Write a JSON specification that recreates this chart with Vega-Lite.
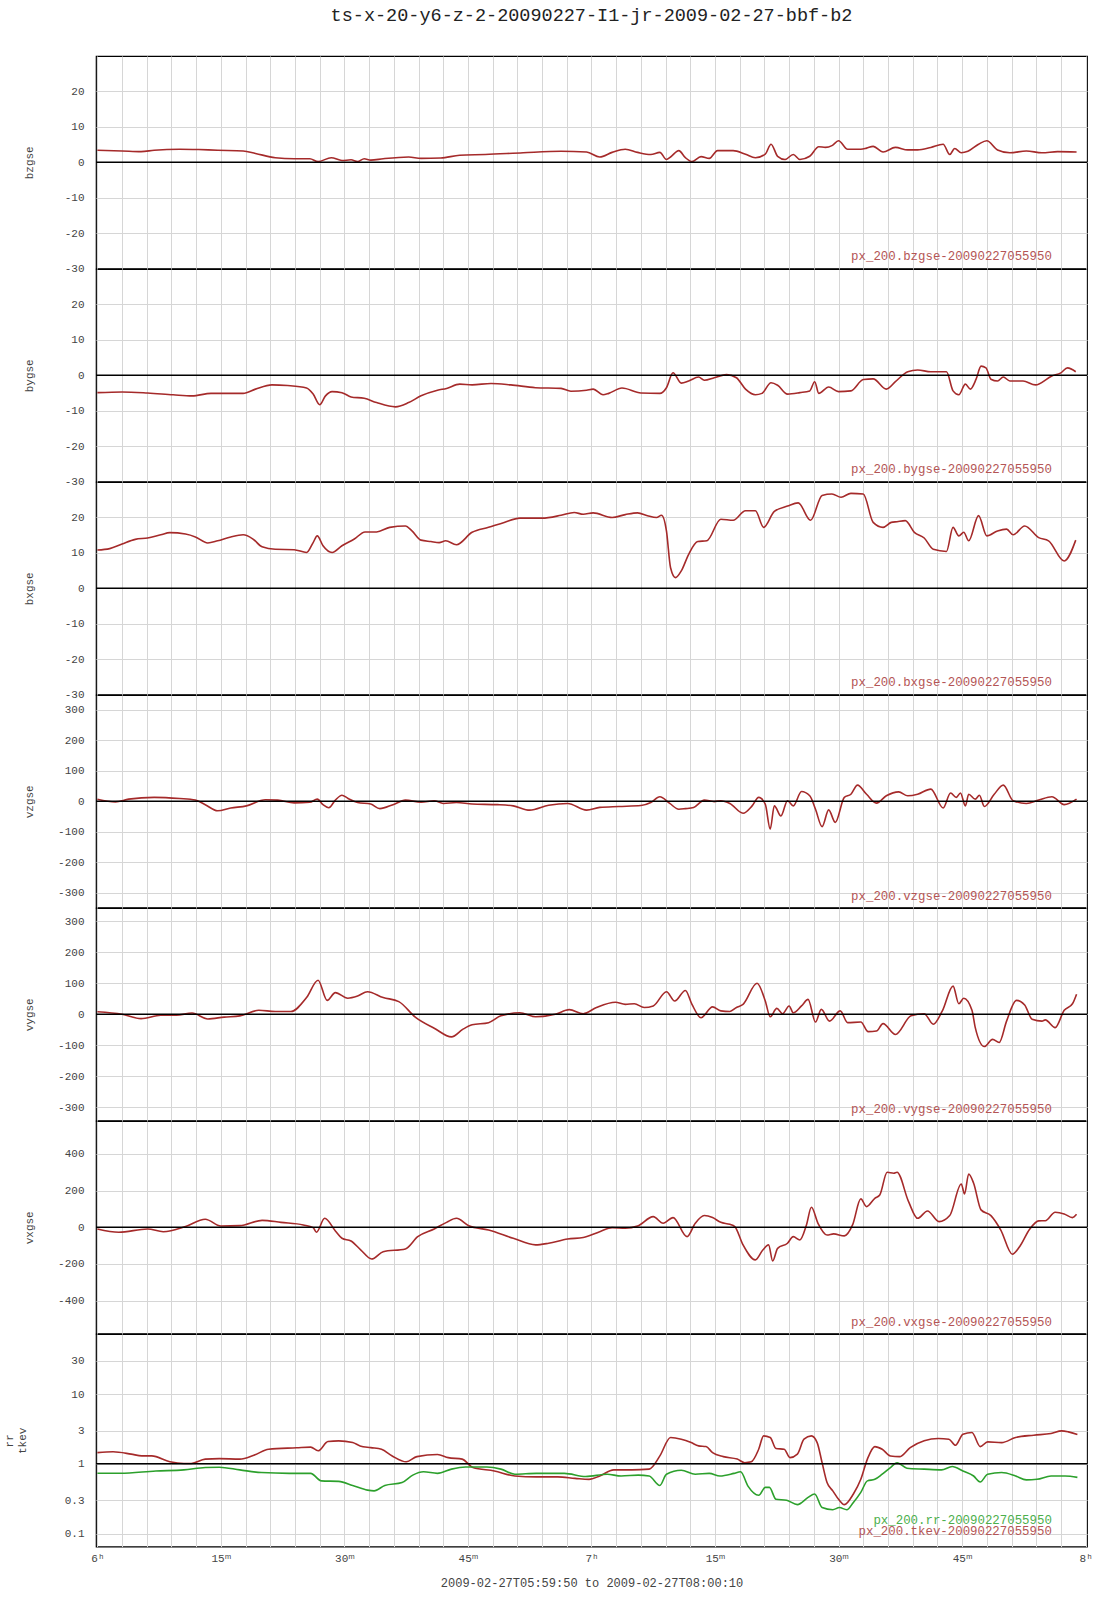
{
  "$schema": "https://vega.github.io/schema/vega-lite/v6.json",
  "padding": {"left": 2, "top": 5, "right": 5, "bottom": 5},
  "title": {"text": "ts-x-20-y6-z-2-20090227-I1-jr-2009-02-27-bbf-b2", "font": "Liberation Mono", "fontSize": 18.5, "fontWeight": "normal", "color": "#222", "anchor": "middle", "frame": "group", "offset": 31},
  "spacing": 0,
  "bounds": "flush",
  "datasets": {
    "bz": [{"t":0,"v":3.4},{"t":3.0,"v":3.2},{"t":5.3,"v":3.0},{"t":6.9,"v":3.4},{"t":10.0,"v":3.7},{"t":12.3,"v":3.6},{"t":14.6,"v":3.4},{"t":17.7,"v":3.2},{"t":19.2,"v":2.5},{"t":21.6,"v":1.3},{"t":23.9,"v":1.0},{"t":25.8,"v":1.0},{"t":26.8,"v":0.2},{"t":28.4,"v":1.3},{"t":29.7,"v":0.5},{"t":30.8,"v":0.7},{"t":31.6,"v":0.2},{"t":32.4,"v":1.0},{"t":33.2,"v":0.6},{"t":34.7,"v":1.0},{"t":37.8,"v":1.5},{"t":39.3,"v":1.1},{"t":41.7,"v":1.2},{"t":44.0,"v":2.0},{"t":47.1,"v":2.2},{"t":51.7,"v":2.7},{"t":56.3,"v":3.1},{"t":59.4,"v":2.9},{"t":61.0,"v":1.5},{"t":62.5,"v":2.8},{"t":64.1,"v":3.7},{"t":65.6,"v":2.8},{"t":67.2,"v":2.2},{"t":68.3,"v":2.8},{"t":69.1,"v":0.8},{"t":69.6,"v":1.5},{"t":70.6,"v":3.3},{"t":71.4,"v":1.3},{"t":72.2,"v":0.2},{"t":73.3,"v":1.6},{"t":74.3,"v":1.1},{"t":75.3,"v":3.3},{"t":77.2,"v":3.3},{"t":78.7,"v":2.3},{"t":79.9,"v":1.3},{"t":81.1,"v":2.3},{"t":81.8,"v":5.1},{"t":82.6,"v":1.7},{"t":83.5,"v":0.8},{"t":84.5,"v":2.2},{"t":85.3,"v":0.8},{"t":86.5,"v":1.7},{"t":87.6,"v":4.4},{"t":88.4,"v":4.2},{"t":89.2,"v":4.7},{"t":90.0,"v":6.1},{"t":91.1,"v":3.7},{"t":92.7,"v":3.7},{"t":93.4,"v":4.0},{"t":94.2,"v":4.5},{"t":95.4,"v":2.9},{"t":96.9,"v":4.2},{"t":98.4,"v":3.5},{"t":99.6,"v":3.5},{"t":101.2,"v":4.2},{"t":102.7,"v":5.1},{"t":103.5,"v":2.2},{"t":104.1,"v":3.9},{"t":104.9,"v":2.7},{"t":105.7,"v":3.1},{"t":107.0,"v":5.1},{"t":108.0,"v":6.1},{"t":109.3,"v":3.5},{"t":110.8,"v":2.7},{"t":112.8,"v":3.2},{"t":114.7,"v":2.7},{"t":116.6,"v":3.0},{"t":118.9,"v":2.9}],
    "by": [{"t":0,"v":-4.9},{"t":3.0,"v":-4.7},{"t":6.1,"v":-5.0},{"t":9.2,"v":-5.5},{"t":11.5,"v":-5.8},{"t":13.8,"v":-5.1},{"t":17.7,"v":-5.1},{"t":19.2,"v":-3.9},{"t":21.2,"v":-2.7},{"t":23.1,"v":-2.9},{"t":25.4,"v":-3.6},{"t":26.2,"v":-5.3},{"t":27.0,"v":-8.3},{"t":27.7,"v":-5.8},{"t":28.5,"v":-4.6},{"t":29.7,"v":-4.9},{"t":30.8,"v":-6.1},{"t":32.4,"v":-6.5},{"t":33.9,"v":-7.7},{"t":36.2,"v":-8.9},{"t":37.8,"v":-7.7},{"t":39.3,"v":-5.8},{"t":41.3,"v":-4.2},{"t":42.4,"v":-3.7},{"t":44.0,"v":-2.5},{"t":45.5,"v":-2.7},{"t":47.8,"v":-2.3},{"t":50.2,"v":-2.7},{"t":53.2,"v":-3.5},{"t":56.3,"v":-3.7},{"t":57.5,"v":-4.5},{"t":59.4,"v":-4.2},{"t":60.2,"v":-3.9},{"t":61.4,"v":-5.5},{"t":62.1,"v":-5.1},{"t":63.7,"v":-3.6},{"t":66.0,"v":-5.0},{"t":68.3,"v":-5.1},{"t":69.1,"v":-3.5},{"t":69.9,"v":0.7},{"t":70.9,"v":-2.2},{"t":71.8,"v":-1.6},{"t":73.0,"v":-0.5},{"t":73.7,"v":-1.4},{"t":74.9,"v":-0.7},{"t":76.4,"v":0.2},{"t":77.6,"v":-0.7},{"t":78.7,"v":-3.9},{"t":79.9,"v":-5.5},{"t":80.7,"v":-5.1},{"t":81.8,"v":-2.1},{"t":82.6,"v":-2.8},{"t":83.8,"v":-5.3},{"t":85.3,"v":-4.9},{"t":86.5,"v":-4.4},{"t":87.1,"v":-1.8},{"t":87.6,"v":-5.1},{"t":88.8,"v":-3.3},{"t":90.0,"v":-4.6},{"t":91.5,"v":-4.4},{"t":93.0,"v":-1.2},{"t":94.2,"v":-1.0},{"t":95.8,"v":-3.9},{"t":96.9,"v":-1.8},{"t":98.4,"v":1.0},{"t":99.6,"v":1.5},{"t":101.2,"v":1.0},{"t":103.1,"v":1.0},{"t":103.9,"v":-4.4},{"t":104.6,"v":-5.5},{"t":105.4,"v":-2.5},{"t":106.0,"v":-3.9},{"t":106.7,"v":-1.1},{"t":107.3,"v":2.6},{"t":107.9,"v":2.1},{"t":108.5,"v":-1.1},{"t":109.3,"v":-1.6},{"t":110.0,"v":-0.5},{"t":110.8,"v":-1.6},{"t":112.4,"v":-1.6},{"t":113.9,"v":-2.7},{"t":115.9,"v":-0.2},{"t":117.0,"v":0.7},{"t":117.8,"v":2.1},{"t":118.8,"v":1.0}],
    "bx": [{"t":0,"v":10.8},{"t":1.5,"v":11.2},{"t":3.0,"v":12.5},{"t":4.6,"v":13.8},{"t":6.1,"v":14.2},{"t":7.7,"v":15.1},{"t":8.8,"v":15.7},{"t":10.7,"v":15.3},{"t":11.9,"v":14.5},{"t":13.4,"v":12.8},{"t":14.6,"v":13.4},{"t":16.2,"v":14.5},{"t":17.7,"v":15.1},{"t":18.9,"v":13.9},{"t":20.0,"v":11.7},{"t":21.6,"v":11.0},{"t":23.9,"v":10.9},{"t":25.4,"v":10.1},{"t":26.2,"v":12.9},{"t":26.7,"v":14.8},{"t":27.4,"v":12.0},{"t":28.5,"v":10.1},{"t":29.7,"v":12.0},{"t":31.2,"v":13.9},{"t":32.5,"v":15.9},{"t":33.9,"v":15.9},{"t":35.5,"v":17.2},{"t":37.4,"v":17.6},{"t":38.2,"v":16.2},{"t":39.3,"v":13.6},{"t":40.5,"v":13.2},{"t":41.5,"v":12.9},{"t":42.3,"v":13.4},{"t":43.6,"v":12.3},{"t":45.5,"v":15.8},{"t":47.5,"v":17.2},{"t":49.4,"v":18.6},{"t":51.3,"v":19.8},{"t":54.0,"v":19.8},{"t":56.3,"v":20.6},{"t":57.9,"v":21.4},{"t":59.0,"v":20.9},{"t":60.2,"v":21.3},{"t":62.5,"v":20.0},{"t":64.1,"v":20.8},{"t":65.6,"v":21.3},{"t":66.8,"v":20.5},{"t":67.9,"v":20.0},{"t":68.5,"v":20.6},{"t":69.1,"v":16.2},{"t":69.6,"v":5.8},{"t":70.2,"v":3.0},{"t":70.9,"v":4.9},{"t":71.8,"v":9.6},{"t":72.9,"v":13.2},{"t":74.0,"v":13.4},{"t":75.7,"v":19.5},{"t":77.2,"v":19.2},{"t":78.7,"v":21.9},{"t":79.9,"v":21.9},{"t":80.9,"v":17.2},{"t":82.2,"v":21.7},{"t":83.8,"v":23.2},{"t":85.1,"v":24.1},{"t":86.6,"v":19.2},{"t":88.0,"v":26.2},{"t":89.2,"v":26.6},{"t":90.3,"v":25.7},{"t":91.5,"v":26.8},{"t":93.0,"v":26.6},{"t":94.2,"v":18.6},{"t":95.4,"v":17.2},{"t":96.4,"v":18.6},{"t":97.1,"v":18.8},{"t":98.1,"v":19.1},{"t":99.2,"v":15.8},{"t":100.4,"v":14.2},{"t":101.5,"v":11.0},{"t":103.1,"v":10.4},{"t":103.9,"v":17.2},{"t":104.6,"v":14.8},{"t":105.2,"v":15.8},{"t":105.8,"v":13.4},{"t":107.0,"v":20.5},{"t":108.0,"v":14.8},{"t":109.3,"v":16.2},{"t":110.4,"v":16.7},{"t":111.2,"v":15.1},{"t":112.6,"v":17.6},{"t":114.3,"v":14.3},{"t":115.5,"v":13.4},{"t":117.4,"v":7.7},{"t":118.8,"v":13.6}],
    "vz": [{"t":0,"v":7},{"t":2.2,"v":-2},{"t":3.8,"v":7},{"t":6.9,"v":13},{"t":10.0,"v":9},{"t":11.9,"v":4},{"t":13.1,"v":-11},{"t":14.6,"v":-31},{"t":16.2,"v":-22},{"t":18.1,"v":-15},{"t":20.4,"v":5},{"t":21.9,"v":4},{"t":23.9,"v":-5},{"t":25.8,"v":-3},{"t":26.7,"v":7},{"t":27.4,"v":-11},{"t":28.1,"v":-21},{"t":28.9,"v":4},{"t":29.7,"v":20},{"t":30.4,"v":10},{"t":31.6,"v":-4},{"t":33.2,"v":-9},{"t":34.3,"v":-24},{"t":35.9,"v":-11},{"t":37.4,"v":4},{"t":39.3,"v":-3},{"t":40.9,"v":2},{"t":42.0,"v":-7},{"t":43.6,"v":-4},{"t":45.5,"v":-9},{"t":48.6,"v":-11},{"t":50.5,"v":-15},{"t":52.5,"v":-29},{"t":54.8,"v":-13},{"t":57.1,"v":-7},{"t":59.4,"v":-29},{"t":61.0,"v":-20},{"t":63.3,"v":-17},{"t":66.0,"v":-14},{"t":67.2,"v":-4},{"t":68.3,"v":15},{"t":69.5,"v":-7},{"t":70.6,"v":-26},{"t":71.4,"v":-24},{"t":72.4,"v":-20},{"t":73.7,"v":4},{"t":74.9,"v":-1},{"t":75.7,"v":2},{"t":76.8,"v":-7},{"t":78.4,"v":-39},{"t":79.5,"v":-15},{"t":80.3,"v":13},{"t":81.1,"v":-9},{"t":81.7,"v":-91},{"t":82.2,"v":-15},{"t":83.0,"v":-48},{"t":83.8,"v":2},{"t":84.5,"v":-15},{"t":85.5,"v":32},{"t":86.5,"v":18},{"t":87.2,"v":-26},{"t":88.0,"v":-83},{"t":88.8,"v":-28},{"t":89.6,"v":-69},{"t":90.7,"v":13},{"t":91.5,"v":23},{"t":92.3,"v":53},{"t":93.4,"v":23},{"t":94.6,"v":-6},{"t":95.8,"v":18},{"t":97.3,"v":31},{"t":98.4,"v":18},{"t":99.6,"v":23},{"t":101.2,"v":40},{"t":102.7,"v":-22},{"t":103.6,"v":27},{"t":104.3,"v":13},{"t":104.8,"v":27},{"t":105.4,"v":-15},{"t":105.8,"v":23},{"t":106.6,"v":7},{"t":107.1,"v":20},{"t":107.7,"v":-17},{"t":108.9,"v":23},{"t":110.0,"v":53},{"t":111.2,"v":2},{"t":112.8,"v":-7},{"t":114.3,"v":4},{"t":115.9,"v":15},{"t":117.4,"v":-11},{"t":118.9,"v":7}],
    "vy": [{"t":0,"v":8},{"t":3.0,"v":0},{"t":5.3,"v":-14},{"t":7.7,"v":-3},{"t":9.6,"v":-3},{"t":11.5,"v":4},{"t":13.4,"v":-15},{"t":15.4,"v":-9},{"t":17.3,"v":-5},{"t":19.6,"v":13},{"t":21.6,"v":9},{"t":23.5,"v":9},{"t":25.4,"v":54},{"t":26.8,"v":110},{"t":27.9,"v":45},{"t":28.9,"v":70},{"t":30.4,"v":52},{"t":31.6,"v":59},{"t":32.8,"v":73},{"t":34.7,"v":54},{"t":36.6,"v":41},{"t":38.6,"v":-9},{"t":40.9,"v":-45},{"t":43.0,"v":-73},{"t":44.4,"v":-48},{"t":45.5,"v":-34},{"t":47.5,"v":-27},{"t":49.0,"v":-5},{"t":51.3,"v":5},{"t":53.2,"v":-8},{"t":55.6,"v":0},{"t":57.3,"v":15},{"t":59.0,"v":2},{"t":60.6,"v":22},{"t":62.9,"v":39},{"t":64.1,"v":32},{"t":65.2,"v":34},{"t":66.4,"v":22},{"t":67.5,"v":27},{"t":69.1,"v":73},{"t":70.1,"v":43},{"t":71.4,"v":77},{"t":72.2,"v":32},{"t":73.3,"v":-11},{"t":74.7,"v":24},{"t":75.7,"v":11},{"t":76.8,"v":9},{"t":77.6,"v":22},{"t":78.4,"v":32},{"t":80.1,"v":100},{"t":81.1,"v":43},{"t":81.7,"v":-8},{"t":82.5,"v":19},{"t":83.2,"v":2},{"t":84.0,"v":27},{"t":84.5,"v":5},{"t":85.5,"v":27},{"t":86.3,"v":48},{"t":87.2,"v":-25},{"t":87.9,"v":16},{"t":88.9,"v":-22},{"t":90.2,"v":11},{"t":91.1,"v":-27},{"t":92.7,"v":-25},{"t":93.6,"v":-56},{"t":94.6,"v":-54},{"t":95.4,"v":-30},{"t":96.9,"v":-65},{"t":98.8,"v":-5},{"t":100.4,"v":2},{"t":101.5,"v":-32},{"t":102.6,"v":11},{"t":103.9,"v":91},{"t":104.6,"v":34},{"t":105.2,"v":52},{"t":106.2,"v":13},{"t":106.6,"v":-43},{"t":107.7,"v":-104},{"t":108.7,"v":-81},{"t":109.5,"v":-91},{"t":110.4,"v":-22},{"t":111.6,"v":45},{"t":112.6,"v":30},{"t":113.5,"v":-16},{"t":114.7,"v":-22},{"t":115.1,"v":-18},{"t":116.3,"v":-43},{"t":117.4,"v":13},{"t":118.4,"v":34},{"t":118.9,"v":65}],
    "vx": [{"t":0,"v":-9},{"t":2.6,"v":-27},{"t":6.1,"v":-9},{"t":8.0,"v":-24},{"t":10.7,"v":4},{"t":13.1,"v":44},{"t":15.0,"v":7},{"t":17.3,"v":9},{"t":20.0,"v":38},{"t":22.3,"v":27},{"t":25.0,"v":13},{"t":26.2,"v":-2},{"t":26.6,"v":-27},{"t":27.6,"v":49},{"t":28.9,"v":-20},{"t":29.7,"v":-60},{"t":30.8,"v":-75},{"t":32.0,"v":-124},{"t":33.3,"v":-173},{"t":34.7,"v":-133},{"t":37.4,"v":-118},{"t":38.9,"v":-51},{"t":40.9,"v":-9},{"t":42.4,"v":27},{"t":43.6,"v":49},{"t":45.1,"v":9},{"t":47.5,"v":-15},{"t":50.5,"v":-60},{"t":53.2,"v":-96},{"t":54.8,"v":-87},{"t":57.1,"v":-64},{"t":59.0,"v":-56},{"t":61.0,"v":-24},{"t":62.5,"v":-2},{"t":64.1,"v":-5},{"t":65.6,"v":7},{"t":67.5,"v":58},{"t":68.7,"v":22},{"t":69.9,"v":53},{"t":71.6,"v":-51},{"t":72.6,"v":22},{"t":73.7,"v":64},{"t":74.7,"v":53},{"t":75.7,"v":27},{"t":76.8,"v":16},{"t":77.4,"v":4},{"t":78.4,"v":-96},{"t":79.9,"v":-178},{"t":80.8,"v":-124},{"t":81.5,"v":-96},{"t":82.0,"v":-184},{"t":82.6,"v":-115},{"t":83.8,"v":-87},{"t":84.5,"v":-51},{"t":85.3,"v":-69},{"t":86.1,"v":13},{"t":86.7,"v":109},{"t":87.5,"v":22},{"t":88.6,"v":-42},{"t":89.4,"v":-36},{"t":90.7,"v":-47},{"t":91.7,"v":13},{"t":92.7,"v":155},{"t":93.4,"v":113},{"t":94.4,"v":158},{"t":95.0,"v":176},{"t":95.9,"v":300},{"t":96.7,"v":295},{"t":97.1,"v":300},{"t":98.5,"v":140},{"t":99.6,"v":49},{"t":100.8,"v":89},{"t":102.2,"v":31},{"t":103.5,"v":64},{"t":104.9,"v":236},{"t":105.3,"v":182},{"t":105.8,"v":291},{"t":106.4,"v":240},{"t":107.3,"v":95},{"t":108.5,"v":64},{"t":109.7,"v":-15},{"t":111.1,"v":-147},{"t":112.0,"v":-105},{"t":113.2,"v":-11},{"t":114.3,"v":35},{"t":115.1,"v":36},{"t":116.3,"v":82},{"t":117.4,"v":73},{"t":118.4,"v":53},{"t":118.9,"v":71}],
    "p7": [{"s":"tkev","t":0,"v":1.45},{"s":"tkev","t":1.9,"v":1.49},{"s":"tkev","t":4.1,"v":1.38},{"s":"tkev","t":5.4,"v":1.30},{"s":"tkev","t":6.6,"v":1.30},{"s":"tkev","t":8.8,"v":1.07},{"s":"tkev","t":10.5,"v":1.01},{"s":"tkev","t":11.4,"v":1.01},{"s":"tkev","t":13.1,"v":1.17},{"s":"tkev","t":14.8,"v":1.19},{"s":"tkev","t":17.3,"v":1.17},{"s":"tkev","t":19.0,"v":1.33},{"s":"tkev","t":20.8,"v":1.62},{"s":"tkev","t":24.2,"v":1.70},{"s":"tkev","t":25.9,"v":1.74},{"s":"tkev","t":26.8,"v":1.54},{"s":"tkev","t":28.0,"v":2.09},{"s":"tkev","t":29.3,"v":2.14},{"s":"tkev","t":31.0,"v":2.02},{"s":"tkev","t":31.9,"v":1.81},{"s":"tkev","t":33.2,"v":1.71},{"s":"tkev","t":34.5,"v":1.62},{"s":"tkev","t":35.8,"v":1.30},{"s":"tkev","t":37.5,"v":1.07},{"s":"tkev","t":38.8,"v":1.27},{"s":"tkev","t":41.3,"v":1.36},{"s":"tkev","t":42.6,"v":1.23},{"s":"tkev","t":44.3,"v":1.17},{"s":"tkev","t":45.6,"v":0.886},{"s":"tkev","t":48.2,"v":0.79},{"s":"tkev","t":50.7,"v":0.67},{"s":"tkev","t":53.3,"v":0.65},{"s":"tkev","t":55.9,"v":0.65},{"s":"tkev","t":58.0,"v":0.62},{"s":"tkev","t":59.7,"v":0.60},{"s":"tkev","t":61.0,"v":0.67},{"s":"tkev","t":62.7,"v":0.82},{"s":"tkev","t":64.9,"v":0.82},{"s":"tkev","t":67.0,"v":0.84},{"s":"tkev","t":68.3,"v":1.30},{"s":"tkev","t":69.6,"v":2.39},{"s":"tkev","t":70.9,"v":2.26},{"s":"tkev","t":72.1,"v":2.02},{"s":"tkev","t":73.0,"v":1.81},{"s":"tkev","t":73.9,"v":1.77},{"s":"tkev","t":74.7,"v":1.45},{"s":"tkev","t":76.0,"v":1.27},{"s":"tkev","t":77.7,"v":1.17},{"s":"tkev","t":78.6,"v":1.04},{"s":"tkev","t":79.4,"v":1.07},{"s":"tkev","t":80.3,"v":1.62},{"s":"tkev","t":80.9,"v":2.52},{"s":"tkev","t":81.7,"v":2.39},{"s":"tkev","t":82.4,"v":1.66},{"s":"tkev","t":83.4,"v":1.62},{"s":"tkev","t":84.1,"v":1.23},{"s":"tkev","t":85.0,"v":1.38},{"s":"tkev","t":85.8,"v":2.26},{"s":"tkev","t":86.7,"v":2.52},{"s":"tkev","t":87.4,"v":2.02},{"s":"tkev","t":88.0,"v":1.04},{"s":"tkev","t":88.6,"v":0.54},{"s":"tkev","t":89.3,"v":0.41},{"s":"tkev","t":90.0,"v":0.31},{"s":"tkev","t":90.7,"v":0.26},{"s":"tkev","t":91.8,"v":0.37},{"s":"tkev","t":92.7,"v":0.60},{"s":"tkev","t":93.5,"v":1.17},{"s":"tkev","t":94.4,"v":1.77},{"s":"tkev","t":95.3,"v":1.62},{"s":"tkev","t":96.3,"v":1.30},{"s":"tkev","t":97.4,"v":1.27},{"s":"tkev","t":98.7,"v":1.71},{"s":"tkev","t":100.4,"v":2.14},{"s":"tkev","t":102.1,"v":2.31},{"s":"tkev","t":103.4,"v":2.26},{"s":"tkev","t":104.2,"v":1.85},{"s":"tkev","t":105.1,"v":2.67},{"s":"tkev","t":106.2,"v":2.82},{"s":"tkev","t":107.2,"v":1.77},{"s":"tkev","t":108.1,"v":2.07},{"s":"tkev","t":109.8,"v":2.02},{"s":"tkev","t":111.5,"v":2.39},{"s":"tkev","t":113.7,"v":2.58},{"s":"tkev","t":115.8,"v":2.72},{"s":"tkev","t":117.1,"v":2.97},{"s":"tkev","t":117.9,"v":2.88},{"s":"tkev","t":119.0,"v":2.64},
      {"s":"rr","t":0,"v":0.734},{"s":"rr","t":2.8,"v":0.734},{"s":"rr","t":7.1,"v":0.79},{"s":"rr","t":10.5,"v":0.82},{"s":"rr","t":13.1,"v":0.886},{"s":"rr","t":14.8,"v":0.896},{"s":"rr","t":17.3,"v":0.82},{"s":"rr","t":19.9,"v":0.75},{"s":"rr","t":23.3,"v":0.73},{"s":"rr","t":25.9,"v":0.73},{"s":"rr","t":27.2,"v":0.57},{"s":"rr","t":29.3,"v":0.56},{"s":"rr","t":31.0,"v":0.49},{"s":"rr","t":32.8,"v":0.42},{"s":"rr","t":33.6,"v":0.41},{"s":"rr","t":34.9,"v":0.49},{"s":"rr","t":37.0,"v":0.54},{"s":"rr","t":38.3,"v":0.69},{"s":"rr","t":39.6,"v":0.77},{"s":"rr","t":41.3,"v":0.73},{"s":"rr","t":43.0,"v":0.84},{"s":"rr","t":44.7,"v":0.90},{"s":"rr","t":47.3,"v":0.90},{"s":"rr","t":49.0,"v":0.84},{"s":"rr","t":50.7,"v":0.71},{"s":"rr","t":53.3,"v":0.73},{"s":"rr","t":56.7,"v":0.73},{"s":"rr","t":59.3,"v":0.66},{"s":"rr","t":61.9,"v":0.71},{"s":"rr","t":63.6,"v":0.67},{"s":"rr","t":65.7,"v":0.69},{"s":"rr","t":67.0,"v":0.67},{"s":"rr","t":68.3,"v":0.49},{"s":"rr","t":69.1,"v":0.71},{"s":"rr","t":70.9,"v":0.81},{"s":"rr","t":72.6,"v":0.71},{"s":"rr","t":74.3,"v":0.73},{"s":"rr","t":75.6,"v":0.67},{"s":"rr","t":77.3,"v":0.73},{"s":"rr","t":78.1,"v":0.77},{"s":"rr","t":79.0,"v":0.48},{"s":"rr","t":80.3,"v":0.355},{"s":"rr","t":81.1,"v":0.46},{"s":"rr","t":81.6,"v":0.46},{"s":"rr","t":82.4,"v":0.31},{"s":"rr","t":83.7,"v":0.30},{"s":"rr","t":85.0,"v":0.26},{"s":"rr","t":86.3,"v":0.33},{"s":"rr","t":87.1,"v":0.37},{"s":"rr","t":88.0,"v":0.236},{"s":"rr","t":89.3,"v":0.22},{"s":"rr","t":90.1,"v":0.236},{"s":"rr","t":91.0,"v":0.22},{"s":"rr","t":91.8,"v":0.28},{"s":"rr","t":92.7,"v":0.39},{"s":"rr","t":93.5,"v":0.57},{"s":"rr","t":94.4,"v":0.60},{"s":"rr","t":95.3,"v":0.71},{"s":"rr","t":96.3,"v":0.886},{"s":"rr","t":97.1,"v":1.04},{"s":"rr","t":98.3,"v":0.866},{"s":"rr","t":100.4,"v":0.84},{"s":"rr","t":102.5,"v":0.82},{"s":"rr","t":103.8,"v":0.915},{"s":"rr","t":105.1,"v":0.79},{"s":"rr","t":106.4,"v":0.67},{"s":"rr","t":107.2,"v":0.55},{"s":"rr","t":108.1,"v":0.71},{"s":"rr","t":109.8,"v":0.75},{"s":"rr","t":111.5,"v":0.67},{"s":"rr","t":112.8,"v":0.59},{"s":"rr","t":114.1,"v":0.60},{"s":"rr","t":115.8,"v":0.67},{"s":"rr","t":117.5,"v":0.67},{"s":"rr","t":119.0,"v":0.64}]
  },
  "vconcat": [
    {"width": 991, "height": 212.6, "layer": [
      {"data": {"name": "bz"}, "mark": {"type": "line", "color": "#a52a2a", "strokeWidth": 1.6, "interpolate": "monotone"},
       "encoding": {
        "x": {"field": "t", "type": "quantitative", "scale": {"domain": [-0.1667, 120.1667], "nice": false, "zero": false}, "axis": {"values": [0,3,6,9,12,15,18,21,24,27,30,33,36,39,42,45,48,51,54,57,60,63,66,69,72,75,78,81,84,87,90,93,96,99,102,105,108,111,114,117,120], "tickCount": 200, "labels": false, "title": null, "grid": true}},
        "y": {"field": "v", "type": "quantitative", "scale": {"domain": [-30, 30], "nice": false, "zero": false}, "axis": {"values": [-30,-20,-10,0,10,20], "tickCount": 100, "format": "d", "labelExpr": "replace(datum.label, '−', '-')", "title": "bzgse", "titleX": -66.5, "titleY": 106.3, "titleAngle": -90, "titleBaseline": "middle", "titleAlign": "center", "labelPadding": 12, "grid": true}}}},
      {"data": {"values": [{}]}, "mark": {"type": "rule", "color": "#000", "strokeWidth": 1.5}, "encoding": {"y": {"datum": 0}}},
      {"data": {"values": [{}]}, "mark": {"type": "text", "align": "right", "baseline": "middle", "font": "Liberation Mono", "fontSize": 12.4, "color": "#b45555"}, "encoding": {"x": {"datum": 115.9}, "y": {"datum": -26.5}, "text": {"value": "px_200.bzgse-20090227055950"}}}
    ]},
    {"width": 991, "height": 212.6, "layer": [
      {"data": {"name": "by"}, "mark": {"type": "line", "color": "#a52a2a", "strokeWidth": 1.6, "interpolate": "monotone"},
       "encoding": {
        "x": {"field": "t", "type": "quantitative", "scale": {"domain": [-0.1667, 120.1667], "nice": false, "zero": false}, "axis": {"values": [0,3,6,9,12,15,18,21,24,27,30,33,36,39,42,45,48,51,54,57,60,63,66,69,72,75,78,81,84,87,90,93,96,99,102,105,108,111,114,117,120], "tickCount": 200, "labels": false, "title": null, "grid": true}},
        "y": {"field": "v", "type": "quantitative", "scale": {"domain": [-30, 30], "nice": false, "zero": false}, "axis": {"values": [-30,-20,-10,0,10,20], "tickCount": 100, "format": "d", "labelExpr": "replace(datum.label, '−', '-')", "title": "bygse", "titleX": -66.5, "titleY": 106.3, "titleAngle": -90, "titleBaseline": "middle", "titleAlign": "center", "labelPadding": 12, "grid": true}}}},
      {"data": {"values": [{}]}, "mark": {"type": "rule", "color": "#000", "strokeWidth": 1.5}, "encoding": {"y": {"datum": 0}}},
      {"data": {"values": [{}]}, "mark": {"type": "text", "align": "right", "baseline": "middle", "font": "Liberation Mono", "fontSize": 12.4, "color": "#b45555"}, "encoding": {"x": {"datum": 115.9}, "y": {"datum": -26.5}, "text": {"value": "px_200.bygse-20090227055950"}}}
    ]},
    {"width": 991, "height": 212.6, "layer": [
      {"data": {"name": "bx"}, "mark": {"type": "line", "color": "#a52a2a", "strokeWidth": 1.6, "interpolate": "monotone"},
       "encoding": {
        "x": {"field": "t", "type": "quantitative", "scale": {"domain": [-0.1667, 120.1667], "nice": false, "zero": false}, "axis": {"values": [0,3,6,9,12,15,18,21,24,27,30,33,36,39,42,45,48,51,54,57,60,63,66,69,72,75,78,81,84,87,90,93,96,99,102,105,108,111,114,117,120], "tickCount": 200, "labels": false, "title": null, "grid": true}},
        "y": {"field": "v", "type": "quantitative", "scale": {"domain": [-30, 30], "nice": false, "zero": false}, "axis": {"values": [-30,-20,-10,0,10,20], "tickCount": 100, "format": "d", "labelExpr": "replace(datum.label, '−', '-')", "title": "bxgse", "titleX": -66.5, "titleY": 106.3, "titleAngle": -90, "titleBaseline": "middle", "titleAlign": "center", "labelPadding": 12, "grid": true}}}},
      {"data": {"values": [{}]}, "mark": {"type": "rule", "color": "#000", "strokeWidth": 1.5}, "encoding": {"y": {"datum": 0}}},
      {"data": {"values": [{}]}, "mark": {"type": "text", "align": "right", "baseline": "middle", "font": "Liberation Mono", "fontSize": 12.4, "color": "#b45555"}, "encoding": {"x": {"datum": 115.9}, "y": {"datum": -26.5}, "text": {"value": "px_200.bxgse-20090227055950"}}}
    ]},
    {"width": 991, "height": 212.6, "layer": [
      {"data": {"name": "vz"}, "mark": {"type": "line", "color": "#a52a2a", "strokeWidth": 1.6, "interpolate": "monotone"},
       "encoding": {
        "x": {"field": "t", "type": "quantitative", "scale": {"domain": [-0.1667, 120.1667], "nice": false, "zero": false}, "axis": {"values": [0,3,6,9,12,15,18,21,24,27,30,33,36,39,42,45,48,51,54,57,60,63,66,69,72,75,78,81,84,87,90,93,96,99,102,105,108,111,114,117,120], "tickCount": 200, "labels": false, "title": null, "grid": true}},
        "y": {"field": "v", "type": "quantitative", "scale": {"domain": [-348, 348], "nice": false, "zero": false}, "axis": {"values": [-300,-200,-100,0,100,200,300], "tickCount": 100, "format": "d", "labelExpr": "replace(datum.label, '−', '-')", "title": "vzgse", "titleX": -66.5, "titleY": 106.3, "titleAngle": -90, "titleBaseline": "middle", "titleAlign": "center", "labelPadding": 12, "grid": true}}}},
      {"data": {"values": [{}]}, "mark": {"type": "rule", "color": "#000", "strokeWidth": 1.5}, "encoding": {"y": {"datum": 0}}},
      {"data": {"values": [{}]}, "mark": {"type": "text", "align": "right", "baseline": "middle", "font": "Liberation Mono", "fontSize": 12.4, "color": "#b45555"}, "encoding": {"x": {"datum": 115.9}, "y": {"datum": -309}, "text": {"value": "px_200.vzgse-20090227055950"}}}
    ]},
    {"width": 991, "height": 212.6, "layer": [
      {"data": {"name": "vy"}, "mark": {"type": "line", "color": "#a52a2a", "strokeWidth": 1.6, "interpolate": "monotone"},
       "encoding": {
        "x": {"field": "t", "type": "quantitative", "scale": {"domain": [-0.1667, 120.1667], "nice": false, "zero": false}, "axis": {"values": [0,3,6,9,12,15,18,21,24,27,30,33,36,39,42,45,48,51,54,57,60,63,66,69,72,75,78,81,84,87,90,93,96,99,102,105,108,111,114,117,120], "tickCount": 200, "labels": false, "title": null, "grid": true}},
        "y": {"field": "v", "type": "quantitative", "scale": {"domain": [-343, 343], "nice": false, "zero": false}, "axis": {"values": [-300,-200,-100,0,100,200,300], "tickCount": 100, "format": "d", "labelExpr": "replace(datum.label, '−', '-')", "title": "vygse", "titleX": -66.5, "titleY": 106.3, "titleAngle": -90, "titleBaseline": "middle", "titleAlign": "center", "labelPadding": 12, "grid": true}}}},
      {"data": {"values": [{}]}, "mark": {"type": "rule", "color": "#000", "strokeWidth": 1.5}, "encoding": {"y": {"datum": 0}}},
      {"data": {"values": [{}]}, "mark": {"type": "text", "align": "right", "baseline": "middle", "font": "Liberation Mono", "fontSize": 12.4, "color": "#b45555"}, "encoding": {"x": {"datum": 115.9}, "y": {"datum": -304}, "text": {"value": "px_200.vygse-20090227055950"}}}
    ]},
    {"width": 991, "height": 212.6, "layer": [
      {"data": {"name": "vx"}, "mark": {"type": "line", "color": "#a52a2a", "strokeWidth": 1.6, "interpolate": "monotone"},
       "encoding": {
        "x": {"field": "t", "type": "quantitative", "scale": {"domain": [-0.1667, 120.1667], "nice": false, "zero": false}, "axis": {"values": [0,3,6,9,12,15,18,21,24,27,30,33,36,39,42,45,48,51,54,57,60,63,66,69,72,75,78,81,84,87,90,93,96,99,102,105,108,111,114,117,120], "tickCount": 200, "labels": false, "title": null, "grid": true}},
        "y": {"field": "v", "type": "quantitative", "scale": {"domain": [-580, 580], "nice": false, "zero": false}, "axis": {"values": [-400,-200,0,200,400], "tickCount": 100, "format": "d", "labelExpr": "replace(datum.label, '−', '-')", "title": "vxgse", "titleX": -66.5, "titleY": 106.3, "titleAngle": -90, "titleBaseline": "middle", "titleAlign": "center", "labelPadding": 12, "grid": true}}}},
      {"data": {"values": [{}]}, "mark": {"type": "rule", "color": "#000", "strokeWidth": 1.5}, "encoding": {"y": {"datum": 0}}},
      {"data": {"values": [{}]}, "mark": {"type": "text", "align": "right", "baseline": "middle", "font": "Liberation Mono", "fontSize": 12.4, "color": "#b45555"}, "encoding": {"x": {"datum": 115.9}, "y": {"datum": -514}, "text": {"value": "px_200.vxgse-20090227055950"}}}
    ]},
    {"width": 991, "height": 212.6, "layer": [
      {"data": {"name": "p7"}, "mark": {"type": "line", "strokeWidth": 1.6, "interpolate": "monotone"},
       "encoding": {
        "x": {"field": "t", "type": "quantitative", "scale": {"domain": [-0.1667, 120.1667], "nice": false, "zero": false}, "axis": {"values": [0,3,6,9,12,15,18,21,24,27,30,33,36,39,42,45,48,51,54,57,60,63,66,69,72,75,78,81,84,87,90,93,96,99,102,105,108,111,114,117,120], "tickCount": 200, "labelExpr": "datum.value % 15 != 0 ? '' : datum.value == 0 ? '6ʰ' : datum.value == 60 ? '7ʰ' : datum.value == 120 ? '8ʰ' : (datum.value % 60) + 'ᵐ'", "labelFlush": false, "labelBound": false, "labelPadding": 6, "labelFontSize": 11, "title": "2009-02-27T05:59:50 to 2009-02-27T08:00:10", "titleFontSize": 12, "titlePadding": 14, "grid": true}},
        "y": {"field": "v", "type": "quantitative", "scale": {"type": "log", "domain": [0.065, 73], "nice": false, "zero": false}, "axis": {"values": [0.1,0.3,1,3,10,30], "tickCount": 100, "format": "~g", "title": ["rr", "tkev"], "titleX": -86.9, "titleY": 106.3, "titleAngle": -90, "titleBaseline": "middle", "titleAlign": "center", "titleLineHeight": 13.2, "labelPadding": 12, "grid": true}},
        "color": {"field": "s", "type": "nominal", "scale": {"domain": ["rr", "tkev"], "range": ["#2ca02c", "#a52a2a"]}, "legend": null}}},
      {"data": {"values": [{}]}, "mark": {"type": "rule", "color": "#000", "strokeWidth": 1.5}, "encoding": {"y": {"datum": 1}}},
      {"data": {"values": [{}]}, "mark": {"type": "text", "align": "right", "baseline": "middle", "font": "Liberation Mono", "fontSize": 12.4, "color": "#4caf4c"}, "encoding": {"x": {"datum": 115.9}, "y": {"datum": 0.158}, "text": {"value": "px_200.rr-20090227055950"}}},
      {"data": {"values": [{}]}, "mark": {"type": "text", "align": "right", "baseline": "middle", "font": "Liberation Mono", "fontSize": 12.4, "color": "#b45555"}, "encoding": {"x": {"datum": 115.9}, "y": {"datum": 0.11}, "text": {"value": "px_200.tkev-20090227055950"}}}
    ]}
  ],
  "config": {
    "view": {"stroke": "#000", "strokeWidth": 1.2},
    "axis": {"domain": false, "ticks": false, "gridColor": "#d6d6d6", "gridWidth": 1, "labelFont": "Liberation Mono", "labelFontSize": 11, "labelColor": "#444", "titleFont": "Liberation Mono", "titleFontSize": 11, "titleFontWeight": "normal", "titleColor": "#444", "labelOverlap": false},
    "text": {"font": "Liberation Mono"}
  }
}
